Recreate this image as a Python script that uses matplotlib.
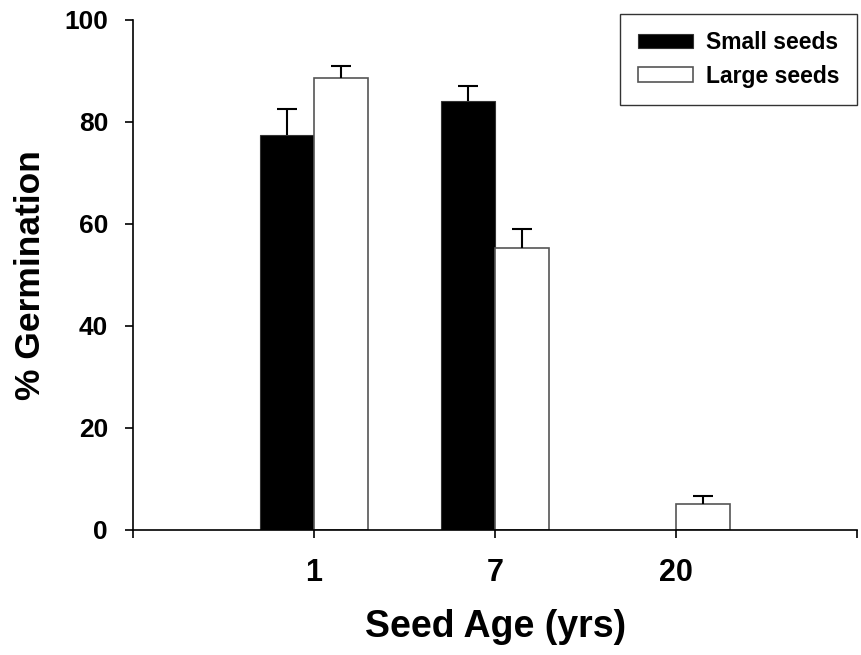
import numpy as np
import matplotlib
matplotlib.use('Agg')
import matplotlib.pyplot as plt

plt.rcParams['font.family'] = ['Liberation Sans', 'DejaVu Sans']
plt.rcParams['font.weight'] = 'bold'

# Data
ages = ['1', '7', '20']
small_seeds = [77.5, 84.2, 0]
small_err = [5.0, 2.8, 0]
large_seeds = [88.7, 55.3, 5.0]
large_err = [2.3, 3.7, 1.6]

fig = plt.figure(figsize=(8.61, 6.55), dpi=100)
ax = fig.add_axes([0.1545, 0.191, 0.841, 0.7785])

pos = np.arange(1, len(ages) + 1)
w = 0.3


def upper_errorbar(x, y, err):
    # error bars drawn upward only, like the original
    _, caps, _ = ax.errorbar(x, y, yerr=[np.zeros(len(err)), err], fmt='none',
                             ecolor='black', elinewidth=1.5, capsize=7.5,
                             capthick=1.5, zorder=3)
    caps[0].set_visible(False)


# only draw bars where there is data (small seeds at 20 yrs is zero)
keep = [i for i, v in enumerate(small_seeds) if v > 0]
sx = pos[keep] - w / 2
sv = [small_seeds[i] for i in keep]
se = [small_err[i] for i in keep]

ax.bar(sx, sv, w, color='black', edgecolor='#333333', linewidth=0.8,
       label='Small seeds', zorder=2)
upper_errorbar(sx, sv, se)

ax.bar(pos + w / 2, large_seeds, w, color='white', edgecolor='#555555',
       linewidth=1.2, label='Large seeds', zorder=2)
upper_errorbar(pos + w / 2, large_seeds, large_err)

ax.set_xlim(0, 4)
ax.set_ylim(0, 100)
ax.set_xticks([0, 1, 2, 3, 4])
ax.set_xticklabels([''] + ages + [''])
ax.set_yticks([0, 20, 40, 60, 80, 100])

for s in ['top', 'right']:
    ax.spines[s].set_visible(False)
ax.spines['left'].set_linewidth(1.2)
ax.spines['bottom'].set_linewidth(1.2)
ax.tick_params(direction='out', length=6, width=1.2)
ax.tick_params(axis='y', labelsize=19, pad=12)
ax.tick_params(axis='x', labelsize=22, pad=14)

ax.set_xlabel('Seed Age (yrs)', fontsize=27, fontweight='bold', labelpad=15)
ax.set_ylabel('% Germination', fontsize=25.5, fontweight='bold', labelpad=12)

leg = ax.legend(loc='upper right', bbox_to_anchor=(857 / 861, 1 - 14 / 655),
                bbox_transform=fig.transFigure, borderaxespad=0,
                fontsize=16.5, frameon=True, fancybox=False, edgecolor='black',
                handlelength=2.4, handleheight=0.6, borderpad=0.75,
                labelspacing=0.45, handletextpad=0.6)
leg.get_frame().set_linewidth(1.0)

fig.savefig('out.png', dpi=100)
